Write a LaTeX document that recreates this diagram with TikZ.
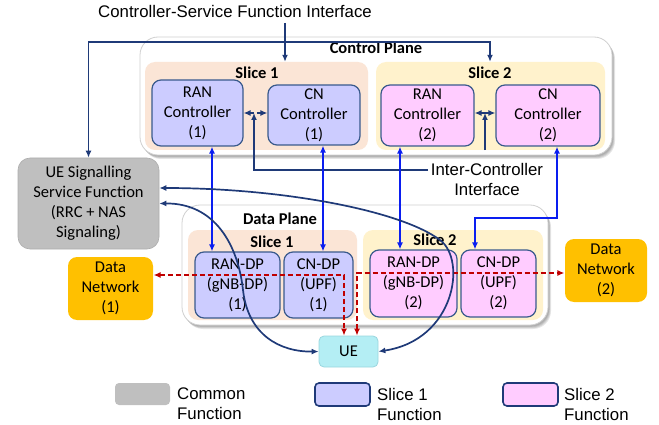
\documentclass[tikz,border=0pt]{standalone}
\usepackage{fontspec}
\setmainfont{Carlito}
\newfontfamily\arialf{Liberation Sans}
\usetikzlibrary{arrows.meta,calc}
\definecolor{navy}{HTML}{1F3A78}
\definecolor{bluel}{HTML}{0A1EF0}
\definecolor{redl}{HTML}{C00000}
\definecolor{peach}{HTML}{FBE5D6}
\definecolor{cream}{HTML}{FFF2CC}
\definecolor{sonefill}{HTML}{CCCCFF}
\definecolor{stwofill}{HTML}{FFCCFF}
\definecolor{fnborder}{HTML}{3A5A8C}
\definecolor{grayfill}{HTML}{BFBFBF}
\definecolor{grayborder}{HTML}{ADADAD}
\definecolor{orangefill}{HTML}{FFC000}
\definecolor{uefill}{HTML}{B4EEF4}
\definecolor{ueborder}{HTML}{9AD6DE}
\definecolor{planeborder}{HTML}{D0D0D0}
\begin{document}
\begin{tikzpicture}[x=1pt,y=-1pt,
  fn/.style={draw=fnborder, line width=1.2pt, rounded corners=9pt, inner sep=0pt, align=center, font=\fontsize{16.5}{20}\selectfont},
  sonefn/.style={fn, fill=sonefill},
  stwofn/.style={fn, fill=stwofill},
  plane/.style={draw=planeborder, fill=white, rounded corners=18pt, line width=0.8pt, inner sep=0pt},
  planeshadow/.style={fill=black, opacity=0.09, rounded corners=18pt, draw=none, inner sep=0pt},
  slicebg/.style={rounded corners=10pt, draw=none, inner sep=0pt},
  lbl/.style={font=\bfseries\fontsize{16.5}{20}\selectfont, inner sep=0pt},
  arl/.style={font=\arialf\fontsize{16.8}{20}\selectfont, inner sep=0pt, align=center},
  navyline/.style={draw=navy, line width=1.7pt},
  blueline/.style={draw=bluel, line width=1.7pt},
  redline/.style={draw=redl, line width=1.5pt, dash pattern=on 5pt off 3pt},
  >={Latex[length=7pt,width=6pt]}
]
\useasboundingbox (0,0) rectangle (659,425);

% ---------- Control plane ----------
\foreach \s in {2,3,4,5} {
  \node[planeshadow, minimum width=472pt, minimum height=118pt] at (376+\s*0.6,96+\s*0.8) {};
}
\node[plane, minimum width=472pt, minimum height=118pt] (cp) at (376,96) {};
\node[slicebg, fill=peach, minimum width=223pt, minimum height=88pt] (cps1) at (256.5,106) {};
\node[slicebg, fill=cream, minimum width=229pt, minimum height=88pt] (cps2) at (490.5,106) {};
\node[lbl] (cplbl) at (376,48) {Control Plane};
\node[lbl] (cps1lbl) at (257,73) {Slice 1};
\node[lbl] (cps2lbl) at (490,73) {Slice 2};

\node[sonefn, minimum width=91pt, minimum height=66pt] (ranc1) at (197.5,113) {RAN\\Controller\\(1)};
\node[sonefn, minimum width=92pt, minimum height=60pt] (cnc1) at (314,115) {CN\\Controller\\(1)};
\node[stwofn, minimum width=93pt, minimum height=61pt] (ranc2) at (427.5,115.5) {RAN\\Controller\\(2)};
\node[stwofn, minimum width=104pt, minimum height=61pt] (cnc2) at (548,115.5) {CN\\Controller\\(2)};

% ---------- Data plane ----------
\foreach \s in {2,3,4,5} {
  \node[planeshadow, minimum width=366pt, minimum height=120pt] at (365+\s*0.6,265+\s*0.8) {};
}
\node[plane, minimum width=366pt, minimum height=120pt] (dp) at (365,265) {};
\node[slicebg, fill=peach, minimum width=169pt, minimum height=90pt] (dps1) at (272.5,275) {};
\node[slicebg, fill=cream, minimum width=180pt, minimum height=90pt] (dps2) at (453,275) {};
\node[lbl] (dplbl) at (280,219) {Data Plane};
\node[lbl] (dps1lbl) at (272,242) {Slice 1};
\node[lbl] (dps2lbl) at (435,240) {Slice 2};

\node[sonefn, minimum width=85pt, minimum height=66pt] (rdp1) at (237.5,285) {RAN-DP\\(gNB-DP)\\(1)};
\node[sonefn, minimum width=69pt, minimum height=66pt] (cndp1) at (318.5,285) {CN-DP\\(UPF)\\(1)};
\node[stwofn, minimum width=87pt, minimum height=67pt] (rdp2) at (413.5,283.5) {RAN-DP\\(gNB-DP)\\(2)};
\node[stwofn, minimum width=75pt, minimum height=67pt] (cndp2) at (498.5,283.5) {CN-DP\\(UPF)\\(2)};

% ---------- Other functions ----------
\node[fn, fill=grayfill, draw=grayborder, line width=0.6pt, rounded corners=12pt, minimum width=141pt, minimum height=91pt] (uesig) at (88.5,203.5) {UE Signalling\\Service Function\\(RRC + NAS\\Signaling)};
\node[fn, fill=orangefill, draw=none, minimum width=85pt, minimum height=63pt] (dn1) at (110.5,288.5) {Data\\Network\\(1)};
\node[fn, fill=orangefill, draw=none, minimum width=82pt, minimum height=63pt] (dn2) at (606,270.5) {Data\\Network\\(2)};
\node[fn, fill=uefill, draw=ueborder, line width=0.8pt, rounded corners=5pt, minimum width=59pt, minimum height=31pt] (ue) at (348.5,351.5) {UE};

% ---------- Interface labels ----------
\node[arl] (csfi) at (235,11) {Controller-Service Function Interface};
\node[arl] (icl) at (487,179) {Inter-Controller\\Interface};
\coordinate (csf) at (285,23);
\coordinate (jtwo) at (490,42);
\coordinate (icw) at (428,170);
\coordinate (done) at (254,113);
\coordinate (dtwo) at (485,113);

% controller-service function interface
\draw[navyline,->] (csf) -- (csf |- cps1.north);
\draw[navyline,<->] (uesig.north) |- (jtwo) -- (jtwo |- cps2.north);

% inter-controller interface
\draw[navyline,<->,dash pattern=on 4pt off 3pt] (ranc1.east |- done) -- (cnc1.west |- done);
\draw[navyline,->] (icw) -| (done);
\draw[navyline,<->] (ranc2.east |- dtwo) -- (cnc2.west |- dtwo);
\draw[navyline,->] (cps2.south -| dtwo) -- (dtwo);

% controller <-> data plane (blue)
\coordinate (bone) at (212,200);
\coordinate (btwo) at (323,200);
\coordinate (bthree) at (400,200);
\coordinate (bfour) at (557,218);
\coordinate (bfive) at (475,218);
\draw[blueline,<->] (ranc1.south -| bone) -- (rdp1.north -| bone);
\draw[blueline,<->] (cnc1.south -| btwo) -- (cndp1.north -| btwo);
\draw[blueline,<->] (ranc2.south -| bthree) -- (rdp2.north -| bthree);
\draw[blueline,<->] (cnc2.south -| bfour) -- (bfour) -- (bfive) -- (cndp2.north -| bfive);

% user data (red dashed)
\coordinate (rone) at (344,275);
\coordinate (rtwo) at (357,273);
\draw[redline,<->] (dn1.east |- rone) -- (rone) -- (ue.north -| rone);
\draw[redline,<->] (ue.north -| rtwo) -- (rtwo) -- (dn2.west |- rtwo);

% UE signalling curves
\coordinate (ca) at (440,240);
\coordinate (cb) at (243,290);
\draw[navyline,<->] ($(uesig.east)+(0,-15.5)$) .. controls (280,188) and (400,210) .. (ca) .. controls (467,260) and (455,340) .. (ue.east);
\draw[navyline,<->] (uesig.east) .. controls (215,203) and (238,245) .. (cb) .. controls (248,335) and (280,352) .. (ue.west);

% ---------- Legend ----------
\node[fill=grayfill, rounded corners=4pt, minimum width=55pt, minimum height=22pt, inner sep=0pt] (lgone) at (142.5,394) {};
\node[fill=sonefill, draw=navy, line width=1.6pt, rounded corners=4pt, minimum width=55pt, minimum height=23pt, inner sep=0pt] (lgtwo) at (342.5,394.5) {};
\node[fill=stwofill, draw=navy, line width=1.6pt, rounded corners=4pt, minimum width=55pt, minimum height=23pt, inner sep=0pt] (lgthree) at (530.5,394.5) {};
\node[arl, anchor=west, align=left] (lgonet) at (177,404) {Common\\Function};
\node[arl, anchor=west, align=left] (lgtwot) at (377,404) {Slice 1\\Function};
\node[arl, anchor=west, align=left] (lgthreet) at (564,404) {Slice 2\\Function};
\end{tikzpicture}
\end{document}
